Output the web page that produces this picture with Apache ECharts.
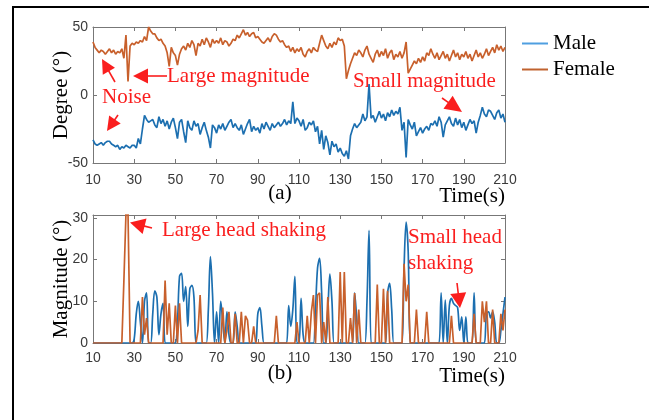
<!DOCTYPE html>
<html>
<head>
<meta charset="utf-8">
<script src="https://cdn.jsdelivr.net/npm/echarts@6/dist/echarts.min.js"></script>
<style>
html, body { margin: 0; padding: 0; background: #fff; }
#chartDom { width: 649px; height: 420px; }
</style>
</head>
<body>
<div id="chartDom"></div>
<script>
// time axis, one sample per second from 10 s to 210 s
const time = []
for (let t = 10; t <= 210; t++) time.push(t)

// (a) head angle, degree
const maleDegree = [
  -33, -36, -37, -36, -35, -37, -35, -34, -34, -36,
  -37, -38, -37, -40, -38, -39, -37, -38, -39, -37,
  -37, -39, -32, -36, -25, -15, -18, -20, -19, -18,
  -22, -24, -16, -21, -18, -23, -19, -25, -20, -17,
  -24, -32, -20, -18, -27, -35, -19, -24, -26, -19,
  -23, -21, -29, -24, -20, -26, -31, -39, -22, -24,
  -28, -22, -25, -21, -26, -23, -20, -18, -24, -21,
  -24, -26, -22, -29, -25, -21, -18, -27, -23, -26,
  -24, -28, -21, -25, -20, -23, -26, -21, -24, -22,
  -20, -23, -21, -18, -22, -19, -21, -5, -21, -17,
  -19, -23, -18, -26, -24, -20, -22, -19, -27, -23,
  -36, -26, -40, -30, -35, -44, -34, -38, -36, -42,
  -39, -43, -45, -41, -47, -30, -25, -21, -24, -22,
  -20, -14, -19, -16, 8, -17, -15, -20, -16, -12,
  -17, -14, -19, -13, -16, -11, -15, -12, -14, -9,
  -26, -20, -46, -18, -22, -25, -20, -30, -27, -24,
  -28, -25, -23, -26, -21, -22, -19, -23, -16, -20,
  -31, -22, -19, -16, -21, -23, -17, -22, -18, -24,
  -20, -26, -22, -18, -21, -19, -28, -20, -15, -9,
  -14, -16, -11, -12, -15, -18, -13, -11, -17, -14, -20
]
const femaleDegree = [
  39, 35, 33, 31, 33, 32, 30, 32, 34, 31,
  33, 30, 32, 31, 34, 27, 44, 10, 36, 38,
  37, 39, 38, 40, 39, 43, 40, 50, 47, 45,
  45, 42, 40, 41, 38, 36, 31, 21, 35, 31,
  29, 22, 30, 34, 36, 33, 38, 35, 40, 37,
  29, 38, 36, 41, 37, 42, 39, 35, 41, 38,
  40, 38, 42, 37, 40, 39, 36, 38, 41, 40,
  44, 42, 45, 48, 44, 46, 43, 45, 46, 42,
  43, 41, 39, 38, 40, 42, 39, 43, 45, 44,
  41, 39, 40, 37, 35, 36, 32, 35, 31, 34,
  32, 35, 30, 28, 32, 34, 31, 35, 33, 32,
  38, 44, 40, 36, 34, 38, 35, 39, 37, 42,
  40, 41, 36, 12, 18, 23, 27, 31, 29, 33,
  31, 28, 33, 36, 30, 27, 24, 30, 33, 28,
  32, 29, 34, 27, 31, 33, 26, 30, 28, 32,
  27, 31, 39, 16, 19, 22, 25, 23, 27, 24,
  28, 25, 31, 29, 34, 30, 27, 31, 26, 29,
  32, 27, 30, 25, 29, 33, 28, 31, 26, 30,
  28, 32, 27, 30, 25, 29, 33, 28, 31, 27,
  30, 34, 29, 32, 35, 31, 37, 33, 36, 32, 35
]

// (b) head shaking magnitude
const maleMagnitude = [
  0, 0, 0, 0, 0, 0, 0, 0, 0, 0,
  0, 0, 0, 0, 0, 0, 0, 0, 0, 0,
  1, 7, 10, 5, 0, 10, 12, 0, 0, 7,
  12.5, 11, 2, 7, 9.5, 0, 0, 0, 0, 0,
  0, 5, 16, 16.7, 10, 13.5, 4, 13, 13.8, 11,
  0, 0, 0, 0, 0, 0, 8, 20.7, 12, 0,
  7.5, 0, 10, 5, 0, 7.5, 2, 0, 0, 7.5,
  4, 0, 0, 0, 0, 0, 0, 0, 0, 0,
  7, 8.5, 4, 0, 0, 0, 0, 0, 0, 0,
  0, 0, 0, 0, 0, 9, 4, 8, 16, 0,
  0, 10.7, 2, 0, 0, 0, 0, 0, 8, 18,
  20.3, 12, 0, 0, 8, 16.5, 10, 0, 0, 0,
  0, 0, 0, 0, 0, 0, 0, 12, 6, 0,
  0, 0, 0, 10, 27, 0, 0, 0, 0, 0,
  0, 0, 0, 12, 14.3, 8, 0, 0, 0, 0,
  0, 18, 29, 22, 0, 0, 0, 0, 0, 0,
  0, 0, 0, 0, 0, 0, 0, 0, 0, 12,
  0, 10.3, 0, 9, 10.7, 9.5, 9, 8.5, 3, 6.3,
  0, 6.3, 0, 0, 0, 12, 0, 0, 0, 0,
  0, 7, 7.5, 6, 7.5, 5, 0, 0, 3, 7, 11
]
const femaleMagnitude = [
  0, 0, 0, 0, 0, 0, 0, 0, 0, 0,
  0, 0, 0, 0, 0, 15, 31, 31, 0, 0,
  0, 0, 0, 0, 11, 2, 6, 0, 0, 0,
  0, 0, 0, 0, 0, 15, 2, 9.5, 0, 0,
  9, 0, 9.5, 0, 0, 0, 0, 0, 0, 0,
  0, 3, 11.5, 0, 0, 0, 0, 0, 0, 0,
  0, 0, 0, 8.5, 0, 3, 7.5, 0, 0, 7,
  0, 0, 7.5, 0, 6.5, 5.5, 0, 0, 4, 0,
  0, 0, 0, 0, 0, 0, 0, 0, 0, 6.5,
  0, 0, 0, 0, 0, 0, 0, 0, 0, 5,
  0, 0, 0, 0, 6.5, 0, 7.5, 11.5, 0, 11.5,
  12, 0, 5, 0, 11, 0, 0, 0, 0, 0,
  17, 0, 17, 0, 0, 6, 0, 12, 0, 8,
  0, 0, 0, 0, 0, 0, 0, 0, 14, 0,
  0, 13, 0, 12.5, 0, 0, 0, 0, 0, 0,
  0, 19, 10, 14, 0, 0, 0, 8, 0, 0,
  0, 0, 7.5, 0, 0, 0, 0, 0, 0, 0,
  0, 0, 0, 0, 6.5, 0, 0, 0, 0, 0,
  0, 0, 0, 0, 0, 7, 0, 0, 0, 10,
  5, 10, 0, 0, 8, 0, 0, 0, 7, 3, 8
]

const maleColor = '#1c6fb0'
const femaleColor = '#c8602c'
const frameColor = '#777'
const red = '#fa1e1e'
const serif = '"Liberation Serif", "Times New Roman", serif'

function pairs (xs, ys) {
  return xs.map((x, i) => [x, ys[i]])
}

function arrow (x1, y1, x2, y2, len, half) {
  const dx = x2 - x1
  const dy = y2 - y1
  const d = Math.sqrt(dx * dx + dy * dy)
  const ux = dx / d
  const uy = dy / d
  const bx = x2 - ux * len
  const by = y2 - uy * len
  return [
    { type: 'line', shape: { x1: x1, y1: y1, x2: bx + ux, y2: by + uy }, style: { stroke: red, lineWidth: 1.6 } },
    { type: 'polygon', shape: { points: [[x2, y2], [bx - uy * half, by + ux * half], [bx + uy * half, by - ux * half]] }, style: { fill: red } }
  ]
}

function label (text, x, y, color, align) {
  return {
    type: 'text',
    style: { text: text, x: x, y: y, fill: color, font: '21px ' + serif, align: align || 'left', verticalAlign: 'middle' }
  }
}

function xAx (grid, pos, margin) {
  return {
    type: 'value', gridIndex: grid, position: pos, min: 10, max: 210, interval: 20,
    axisLine: { onZero: false, lineStyle: { color: frameColor, width: 1 } },
    axisTick: { inside: true, length: 4, lineStyle: { color: frameColor } },
    axisLabel: { show: pos === 'bottom', margin: margin, fontSize: 14, color: '#3a3a3a', fontFamily: '"Liberation Sans", Arial' },
    splitLine: { show: false }
  }
}

function yAx (grid, pos, min, max, interval, name) {
  return {
    type: 'value', gridIndex: grid, position: pos, min: min, max: max, interval: interval,
    name: pos === 'left' ? name : '',
    nameLocation: 'middle', nameGap: 21, nameMoveOverlap: false,
    nameTextStyle: { fontFamily: serif, fontSize: 21, color: '#000' },
    axisLine: { show: true, onZero: false, lineStyle: { color: frameColor, width: 1 } },
    axisTick: { inside: true, length: 4, lineStyle: { color: frameColor } },
    axisLabel: {
      show: pos === 'left', margin: 5, fontSize: 14, color: '#3a3a3a', fontFamily: '"Liberation Sans", Arial',
      formatter: function (v) { return v % interval === 0 ? String(v) : '' }
    },
    splitLine: { show: false }
  }
}

const chart = echarts.init(document.getElementById('chartDom'))

const graphics = [
  { type: 'rect', shape: { x: 13, y: 7, width: 700, height: 500 }, style: { fill: 'none', stroke: '#000', lineWidth: 2 } },
  label('Large magnitude', 167, 76, red),
  label('Noise', 102, 97, red),
  label('Small magnitude', 353, 81, red),
  label('Large head shaking', 162, 230, red),
  label('Small head', 408, 237, red),
  label('shaking', 408, 263, red),
  label('(a)', 280, 193, '#000', 'center'),
  label('(b)', 280, 373, '#000', 'center'),
  label('Time(s)', 505, 196, '#000', 'right'),
  label('Time(s)', 505, 376, '#000', 'right')
].concat(
  arrow(167, 76, 133, 76, 15, 7.5),
  arrow(115, 82, 102, 59, 14, 7),
  arrow(118, 115, 107, 131, 14, 7),
  arrow(442, 98, 462, 112, 17, 8),
  arrow(152, 228, 130, 222.5, 15, 8),
  arrow(457, 283, 460, 308, 15, 8)
)

const option = {
  animation: false,
  backgroundColor: '#fff',
  grid: [
    { left: 93, top: 27, width: 412, height: 136 },
    { left: 93, top: 215, width: 412, height: 128 }
  ],
  legend: {
    orient: 'vertical', left: 517, top: 28, itemWidth: 26, itemHeight: 2, itemGap: 5,
    icon: 'rect',
    textStyle: { fontFamily: serif, fontSize: 21, color: '#000' },
    data: [
      { name: 'Male', itemStyle: { color: '#4f9fe0' } },
      { name: 'Female', itemStyle: { color: '#c0622f' } }
    ]
  },
  xAxis: [xAx(0, 'bottom', 10), xAx(0, 'top', 0), xAx(1, 'bottom', 8), xAx(1, 'top', 0)],
  yAxis: [
    yAx(0, 'left', -50, 50, 50, 'Degree (°)'), yAx(0, 'right', -50, 50, 50, ''),
    yAx(1, 'left', 0, 30.7, 10, 'Magnitude (°)'), yAx(1, 'right', 0, 30.7, 10, '')
  ],
  series: [
    { name: 'Male', type: 'line', xAxisIndex: 0, yAxisIndex: 0, data: pairs(time, maleDegree), showSymbol: false, lineStyle: { color: maleColor, width: 1.7 }, itemStyle: { color: maleColor } },
    { name: 'Female', type: 'line', xAxisIndex: 0, yAxisIndex: 0, data: pairs(time, femaleDegree), showSymbol: false, lineStyle: { color: femaleColor, width: 1.7 }, itemStyle: { color: femaleColor } },
    { name: 'Male', type: 'line', xAxisIndex: 2, yAxisIndex: 2, data: pairs(time, maleMagnitude), smooth: 0.35, showSymbol: false, lineStyle: { color: maleColor, width: 1.7 }, itemStyle: { color: maleColor } },
    { name: 'Female', type: 'line', xAxisIndex: 2, yAxisIndex: 2, data: pairs(time, femaleMagnitude), showSymbol: false, lineStyle: { color: femaleColor, width: 1.7 }, itemStyle: { color: femaleColor } }
  ],
  graphic: graphics
}

chart.setOption(option)
</script>
</body>
</html>
